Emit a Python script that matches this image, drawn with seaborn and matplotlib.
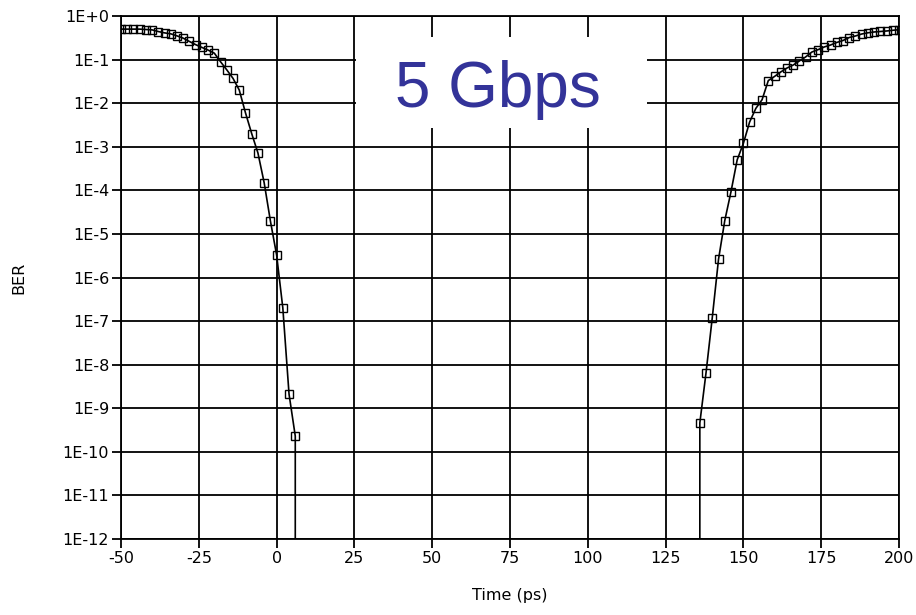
import math
import matplotlib
matplotlib.use("Agg")
import matplotlib.pyplot as plt
import seaborn as sns
import pandas as pd
from matplotlib.patches import Rectangle
from matplotlib.ticker import FixedLocator, FuncFormatter, NullLocator

# === data ===
left_time = [-50, -48, -46, -44, -42, -40, -38, -36, -34, -32, -30, -28, -26, -24, -22,
             -20, -18, -16, -14, -12, -10, -8, -6, -4, -2, 0, 2, 4, 6, 6]
left_ber = [0.50, 0.50, 0.50, 0.50, 0.49, 0.48, 0.44, 0.41, 0.39, 0.35, 0.31, 0.26, 0.22,
            0.19, 0.165, 0.14, 0.089, 0.058, 0.037, 0.020, 6.0e-3, 2.0e-3, 7.2e-4, 1.5e-4,
            2.0e-5, 3.3e-6, 2.0e-7, 2.1e-9, 2.3e-10, 0.0]

right_time = [136, 136, 138, 140, 142, 144, 146, 148, 150, 152, 154, 156, 158, 160, 162,
              164, 166, 168, 170, 172, 174, 176, 178, 180, 182, 184, 186, 188, 190, 192,
              194, 196, 198, 200]
right_ber = [0.0, 4.6e-10, 6.6e-9, 1.2e-7, 2.6e-6, 2.0e-5, 9.2e-5, 5.0e-4, 1.2e-3, 3.7e-3,
             7.6e-3, 0.012, 0.033, 0.041, 0.052, 0.064, 0.075, 0.093, 0.115, 0.149, 0.169,
             0.195, 0.216, 0.247, 0.274, 0.321, 0.348, 0.386, 0.412, 0.430, 0.441, 0.453,
             0.470, 0.485]

x_ticks = [-50, -25, 0, 25, 50, 75, 100, 125, 150, 175, 200]
y_exponents = [0, -1, -2, -3, -4, -5, -6, -7, -8, -9, -10, -11, -12]
rate_label = "5 Gbps"

left_df = pd.DataFrame({"time": left_time, "ber": left_ber})
right_df = pd.DataFrame({"time": right_time, "ber": right_ber})

sns.set_style("ticks")
plt.rcParams['font.family'] = ['DejaVu Sans']
plt.rcParams['axes.unicode_minus'] = False

fig = plt.figure(figsize=(9.16, 6.15), dpi=100)
ax = fig.add_axes([121 / 916, 1 - 539 / 615, 778 / 916, 523 / 615])

line_kw = dict(x="time", y="ber", estimator=None, sort=False, color="black",
               linewidth=1.2, marker="s", markersize=5.5, markerfacecolor="none",
               markeredgecolor="black", markeredgewidth=1.0, zorder=5)
sns.lineplot(data=left_df, ax=ax, **line_kw)
sns.lineplot(data=right_df, ax=ax, **line_kw)

ax.set_yscale("log", nonpositive="clip")
ax.set_xlim(-50, 200)
ax.set_ylim(1e-12, 1)

ax.xaxis.set_major_locator(FixedLocator(x_ticks))
ax.xaxis.set_minor_locator(NullLocator())
ax.yaxis.set_major_locator(FixedLocator([10.0 ** e for e in y_exponents]))
ax.yaxis.set_minor_locator(NullLocator())


def ber_fmt(v, pos):
    e = round(math.log10(v))
    return "1E+0" if e == 0 else "1E%d" % e


ax.yaxis.set_major_formatter(FuncFormatter(ber_fmt))

ax.grid(True, which="major", color="black", linewidth=1.3)
for s in ax.spines.values():
    s.set_visible(True)
    s.set_color("black")
    s.set_linewidth(1.3)

ax.tick_params(axis="both", which="major", direction="out", length=6.5, width=1.3,
               color="black", labelcolor="black", labelsize=11.5, pad=2,
               left=True, bottom=True, right=False, top=False)

ax.set_xlabel("Time (ps)", fontsize=11.5, labelpad=16, color="black")
ax.set_ylabel("BER", fontsize=11.5, labelpad=26, color="black")

# white label box over the grid
ax.add_patch(Rectangle((0.302, 0.785), 0.374, 0.175, transform=ax.transAxes,
                       facecolor="white", edgecolor="none", zorder=3))
ax.text(0.485, 0.858, rate_label, transform=ax.transAxes, ha="center", va="center",
        fontsize=46, color="#333399", family="Liberation Sans", zorder=4)

fig.savefig("out.png", dpi=100)
